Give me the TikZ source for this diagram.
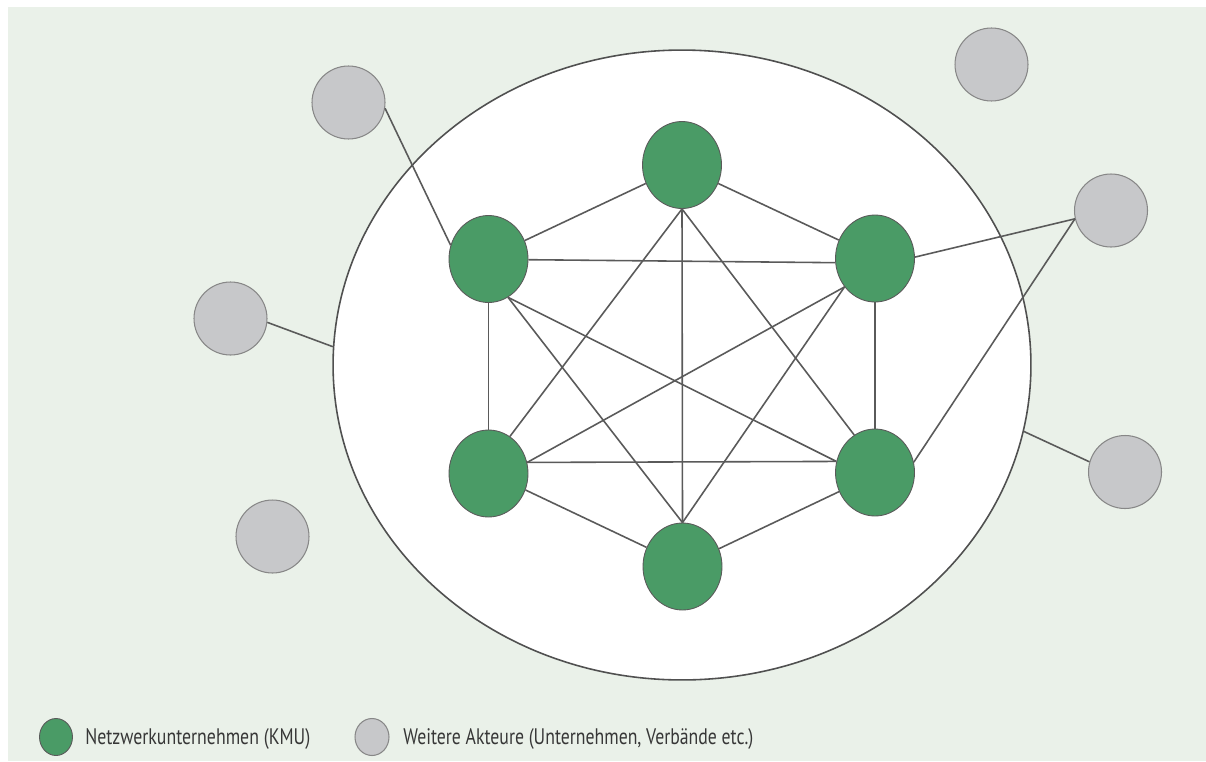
\documentclass[tikz,border=0pt]{standalone}
\usepackage{fontspec}
\setmainfont{PT Sans}
\usetikzlibrary{shapes.geometric}
\definecolor{bgc}{RGB}{234,241,233}
\definecolor{kmugreen}{RGB}{74,155,102}
\definecolor{akgray}{RGB}{199,200,202}
\definecolor{circborder}{RGB}{135,135,135}
\definecolor{linec}{RGB}{90,90,90}
\definecolor{bigc}{RGB}{80,80,80}
\definecolor{textc}{RGB}{55,55,55}
\begin{document}
\begin{tikzpicture}[x=0.02cm,y=-0.02cm,
  kmu/.style={ellipse, draw=linec, line width=0.5pt, fill=kmugreen,
    minimum width=1.58cm, minimum height=1.74cm, inner sep=0pt},
  akteur/.style={circle, draw=circborder, fill=akgray, line width=0.6pt,
    minimum size=1.46cm, inner sep=0pt},
  link/.style={draw=linec, line width=0.9pt},
  legtext/.style={anchor=west, inner sep=0pt, text=textc}]
\useasboundingbox (0,0) rectangle (1206,761);
\fill[bgc] (8,7) rectangle (1206,761);
% big network ellipse
\node[ellipse, draw=bigc, line width=0.9pt, fill=white, minimum width=13.96cm,
  minimum height=12.6cm, inner sep=0pt] (net) at (682,365) {};
% network companies
\node[kmu] (top) at (682,165) {};
\node[kmu] (ul) at (488.5,259) {};
\node[kmu] (ur) at (875,258.5) {};
\node[kmu] (ll) at (488.5,473.5) {};
\node[kmu] (lr) at (875,472.5) {};
\node[kmu] (bot) at (682.5,566.5) {};
% other actors
\node[akteur] (g1) at (348.5,102.5) {};
\node[akteur] (g2) at (991.5,64.5) {};
\node[akteur] (g3) at (1111,210.5) {};
\node[akteur] (g4) at (230.5,318.5) {};
\node[akteur] (g5) at (1125,472) {};
\node[akteur] (g6) at (272.5,536.5) {};
% complete graph among companies
\draw[link] (top.-153) -- (ul.27.5);
\draw[link] (top.-27) -- (ur.153);
\draw[link] (top.south) -- (ll.60);
\draw[link] (top.south) -- (lr.119);
\draw[link] (top.south) -- (bot.north);
\draw[link] (ul.-1) -- (ur.-174);
\draw[link] (ul.south) -- (ll.north);
\draw[link] (ul.-63) -- (lr.164.5);
\draw[link] (ul.-63) -- (bot.north);
\draw[link] (ur.-137) -- (ll.16);
\draw[link] (ur.south) -- (lr.north);
\draw[link] (ur.-137) -- (bot.north);
\draw[link] (ll.16) -- (lr.164.5);
\draw[link] (ll.-24) -- (bot.152);
\draw[link] (lr.-152) -- (bot.26);
% links to other actors
\draw[link] (g1.-9.5) -- (ul.160);
\draw[link] (g4.-6) -- (net.177.5);
\draw[link] (g3.193) -- (ur.2);
\draw[link] (g3.193) -- (lr.15);
\draw[link] (g5.164) -- (net.-11.1);
% legend
\node[ellipse, draw=linec, line width=0.5pt, fill=kmugreen, minimum width=0.66cm,
  minimum height=0.74cm, inner sep=0pt] (lg1) at (56,737) {};
\node[ellipse, draw=circborder, line width=0.6pt, fill=akgray, minimum width=0.68cm,
  minimum height=0.74cm, inner sep=0pt] (lg2) at (372,737) {};
\node[legtext] (t1) at (85,739) {\resizebox{4.5cm}{0.32cm}{Netzwerkunternehmen (KMU)}};
\node[legtext] (t2) at (403,739) {\resizebox{7.0cm}{0.32cm}{Weitere Akteure (Unternehmen, Verbände etc.)}};
\end{tikzpicture}
\end{document}
